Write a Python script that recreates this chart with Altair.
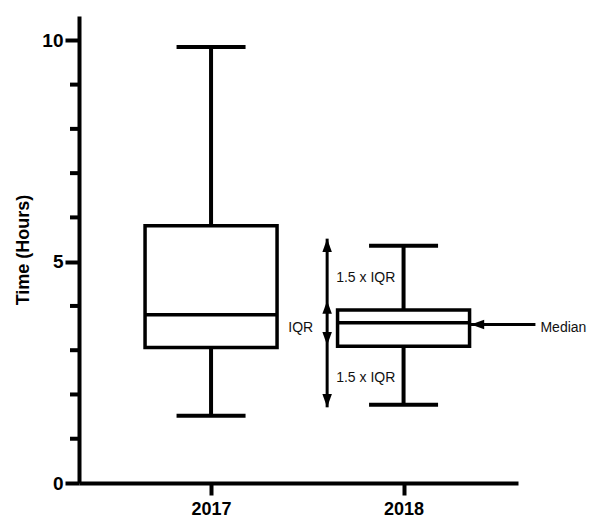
import altair as alt
import pandas as pd

# ---- data ----
years = ["2017", "2018"]
whisker_low = [1.52, 1.77]
q1 = [3.06, 3.09]
median = [3.80, 3.62]
q3 = [5.81, 3.91]
whisker_high = [9.85, 5.36]

# annotation (in data coordinates: 2017 = 1, 2018 = 2)
arrow_x = [1.603]
arrow_top = [5.52]
arrow_bottom = [1.71]
heads_up = [5.52, 4.12]
heads_down = [3.11, 1.71]
median_arrow_y = [3.58]
median_arrow_from = [2.685]
median_arrow_tip = [2.35]
label_texts = ["1.5 x IQR", "IQR", "1.5 x IQR", "Median"]
label_x = [1.650, 1.401, 1.650, 2.711]
label_y = [4.64, 3.51, 2.38, 3.51]

y_major = [0, 5, 10]
y_minor = [1, 2, 3, 4, 6, 7, 8, 9]

FONT = "Liberation Sans"

box = pd.DataFrame({
    "year": years,
    "pos": list(range(1, len(years) + 1)),
    "lo": whisker_low, "q1": q1, "med": median, "q3": q3, "hi": whisker_high,
})
vline = pd.DataFrame({"x": arrow_x, "top": arrow_top, "bottom": arrow_bottom})
up = pd.DataFrame({"x": arrow_x * len(heads_up), "y": heads_up})
down = pd.DataFrame({"x": arrow_x * len(heads_down), "y": heads_down})
marrow = pd.DataFrame({"x": median_arrow_tip, "x2": median_arrow_from, "y": median_arrow_y})
labels = pd.DataFrame({"t": label_texts, "x": label_x, "y": label_y})
minor = pd.DataFrame({"v": y_minor})

xscale = alt.Scale(domain=[0.34, 2.5685], nice=False, zero=False)
yscale = alt.Scale(domain=[0, 10.55], nice=False, zero=True)

xaxis = alt.Axis(
    values=list(range(1, len(years) + 1)),
    labelExpr=f"{years}[datum.value - 1]",
    title=None, grid=False,
    domainColor="black", domainWidth=4,
    tickColor="black", tickWidth=4, tickSize=12,
    labelFont=FONT, labelFontSize=18, labelFontWeight="bold", labelColor="black",
    labelPadding=5, labelFlush=False,
)
yaxis = alt.Axis(
    values=y_major,
    title="Time (Hours)", grid=False,
    domainColor="black", domainWidth=4,
    tickColor="black", tickWidth=4, tickSize=14,
    labelFont=FONT, labelFontSize=19, labelFontWeight="bold", labelColor="black",
    labelPadding=2, labelOverlap=False, labelFlush=False,
    titleFont=FONT, titleFontSize=18, titleFontWeight="bold", titleColor="black",
    titlePadding=9,
)

X = lambda f: alt.X(f"{f}:Q", scale=xscale, axis=xaxis)
Y = lambda f: alt.Y(f"{f}:Q", scale=yscale, axis=yaxis)

HEAD = 700

# minor ticks of the y axis (one per hour), 9 px long, outside the axis line
minor_ticks = alt.Chart(minor).mark_rule(color="black", strokeWidth=4).encode(
    x=alt.value(0), x2=alt.value(-9), y=Y("v"))

base = alt.Chart(box)
whisk_up = base.mark_rule(color="black", strokeWidth=4).encode(
    x=X("pos"), y=Y("q3"), y2="hi")
whisk_dn = base.mark_rule(color="black", strokeWidth=4).encode(
    x=X("pos"), y=Y("lo"), y2="q1")
boxes = base.mark_bar(size=132, fill="white", stroke="black", strokeWidth=3.5).encode(
    x=X("pos"), y=Y("q1"), y2="q3")
med = base.mark_tick(orient="horizontal", size=132, thickness=3.5, color="black", opacity=1).encode(
    x=X("pos"), y=Y("med"))
cap_hi = base.mark_tick(orient="horizontal", size=69, thickness=4, color="black", opacity=1).encode(
    x=X("pos"), y=Y("hi"))
cap_lo = base.mark_tick(orient="horizontal", size=69, thickness=4, color="black", opacity=1).encode(
    x=X("pos"), y=Y("lo"))

arrow_line = alt.Chart(vline).mark_rule(color="black", strokeWidth=3).encode(
    x=X("x"), y=Y("top"), y2="bottom")
head_up = alt.Chart(up).mark_point(
    shape="M0,0L-0.36,1L0.36,1Z", size=HEAD, filled=True, color="black", opacity=1, strokeWidth=0
).encode(x=X("x"), y=Y("y"))
head_down = alt.Chart(down).mark_point(
    shape="M0,0L-0.36,-1L0.36,-1Z", size=HEAD, filled=True, color="black", opacity=1, strokeWidth=0
).encode(x=X("x"), y=Y("y"))
med_line = alt.Chart(marrow).mark_rule(color="black", strokeWidth=3).encode(
    x=X("x"), x2="x2", y=Y("y"))
med_head = alt.Chart(marrow).mark_point(
    shape="M0,0L1,-0.36L1,0.36Z", size=HEAD, filled=True, color="black", opacity=1, strokeWidth=0
).encode(x=X("x"), y=Y("y"))
texts = alt.Chart(labels).mark_text(
    align="left", baseline="middle", font=FONT, fontSize=14, color="#111111"
).encode(x=X("x"), y=Y("y"), text="t:N")

chart = alt.layer(
    minor_ticks, whisk_up, whisk_dn, boxes, med, cap_hi, cap_lo,
    arrow_line, head_up, head_down, med_line, med_head, texts,
).properties(
    width=439, height=467,
    autosize=alt.AutoSizeParams(type="none"),
    padding={"left": 71, "top": 8, "right": 69, "bottom": 34},
    background="white",
).configure_view(stroke=None)

chart.save("out.html", embed_options={"renderer": "svg", "actions": False})
